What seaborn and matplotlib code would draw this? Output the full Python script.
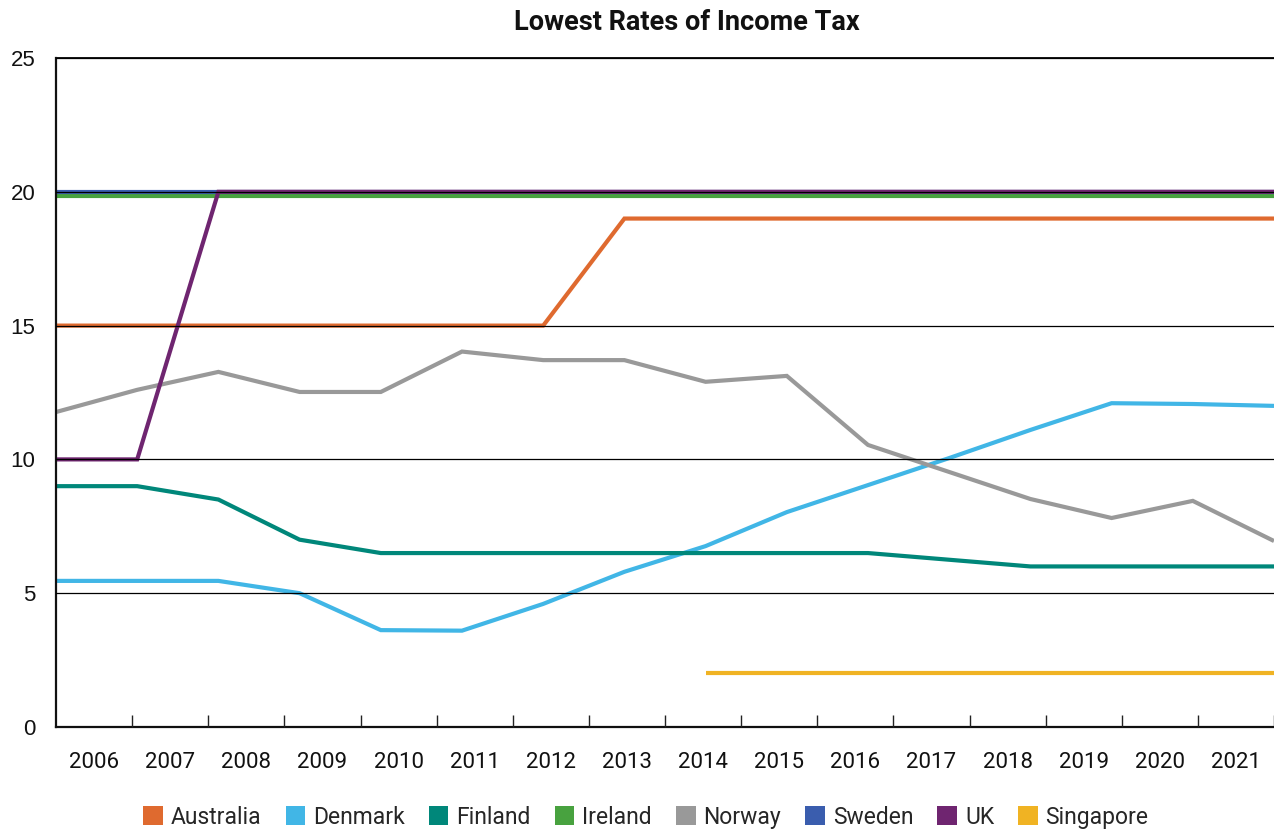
import numpy as np
import pandas as pd
import seaborn as sns
import matplotlib.pyplot as plt
from matplotlib.patches import Patch
from matplotlib.ticker import FixedLocator, NullFormatter

years = [2006, 2007, 2008, 2009, 2010, 2011, 2012, 2013,
         2014, 2015, 2016, 2017, 2018, 2019, 2020, 2021]

australia = [15, 15, 15, 15, 15, 15, 15, 19, 19, 19, 19, 19, 19, 19, 19, 19]
denmark = [5.46, 5.46, 5.46, 5.0, 3.62, 3.6, 4.6, 5.8,
           6.76, 8.03, 9.04, 10.05, 11.1, 12.1, 12.07, 12.0]
finland = [9.0, 9.0, 8.5, 7.0, 6.5, 6.5, 6.5, 6.5,
           6.5, 6.5, 6.5, 6.25, 6.0, 6.0, 6.0, 6.0]
ireland = [19.85] * 16
norway = [11.77, 12.6, 13.27, 12.52, 12.52, 14.03, 13.71, 13.71,
          12.9, 13.12, 10.54, 9.53, 8.52, 7.81, 8.45, 6.95]
sweden = [20] * 16
uk = [10, 10, 20, 20, 20, 20, 20, 20, 20, 20, 20, 20, 20, 20, 20, 20]
singapore = [None, None, None, None, None, None, None, None,
             2, 2, 2, 2, 2, 2, 2, 2]

countries = ["Australia", "Denmark", "Finland", "Ireland",
             "Norway", "Sweden", "UK", "Singapore"]
colors = ["#DF6A2F", "#41B6E6", "#00877A", "#48A23F",
          "#999999", "#3A5DAE", "#6F2570", "#F0B323"]
series = [australia, denmark, finland, ireland, norway, sweden, uk, singapore]

rows = []
for name, vals in zip(countries, series):
    for i, (yr, v) in enumerate(zip(years, vals)):
        if v is not None:
            rows.append({"idx": i, "year": yr, "country": name, "rate": v})
df = pd.DataFrame(rows)

sns.set_theme(style="white")
plt.rcParams["font.family"] = ["Roboto", "DejaVu Sans"]

fig = plt.figure(figsize=(12.74, 8.3), dpi=100)
ax = fig.add_axes([56 / 1274, 1 - 727 / 830, 1 - 56 / 1274, (727 - 58) / 830])

sns.lineplot(data=df, x="idx", y="rate", hue="country", hue_order=countries,
             palette=colors, linewidth=3.0, ax=ax, legend=False,
             estimator=None, sort=True)
for ln in ax.lines:
    ln.set_solid_joinstyle("miter")
    ln.set_solid_capstyle("butt")

n = len(years)
last = n - 1
ax.set_xlim(0, last)
ax.set_ylim(0, 25)

# category bands: labels centred in each band, tick marks on band edges
band = last / n
ax.xaxis.set_major_locator(FixedLocator([(k + 0.5) * band for k in range(n)]))
ax.set_xticklabels([str(y) for y in years], fontsize=16, color="#111111")
ax.xaxis.set_minor_locator(FixedLocator([(k + 1) * band for k in range(n)]))
ax.xaxis.set_minor_formatter(NullFormatter())
ax.tick_params(axis="x", which="major", length=0, pad=18)
ax.tick_params(axis="x", which="minor", direction="in", length=9,
               width=1.0, color="#222222", bottom=True)

ax.set_yticks([0, 5, 10, 15, 20, 25])
ax.set_yticklabels(["0", "5", "10", "15", "20", "25"],
                   fontsize=16, family="Liberation Sans", color="#111111")
ax.tick_params(axis="y", length=0, pad=15)

ax.grid(axis="y", color="black", linewidth=0.9)
ax.grid(axis="x", visible=False)
ax.set_axisbelow(False)

for side in ["left", "bottom"]:
    ax.spines[side].set_color("#111111")
    ax.spines[side].set_linewidth(1.6)
ax.spines["right"].set_visible(False)
ax.spines["top"].set_visible(True)
ax.spines["top"].set_color("#111111")
ax.spines["top"].set_linewidth(1.4)

ax.set_xlabel("")
ax.set_ylabel("")

fig.text(686.5 / 1274, 1 - 22 / 830, "Lowest Rates of Income Tax",
         ha="center", va="center", fontsize=19.5, fontweight="bold",
         color="#111111")

handles = [Patch(facecolor=c, edgecolor="none") for c in colors]
fig.legend(handles, countries, loc="center", ncol=len(countries),
           bbox_to_anchor=(646 / 1274, 1 - 817 / 830), frameon=False,
           fontsize=16.5, handlelength=0.85, handleheight=0.85,
           handletextpad=0.35, columnspacing=1.05, borderaxespad=0,
           borderpad=0)

fig.savefig("out.png", dpi=100)
